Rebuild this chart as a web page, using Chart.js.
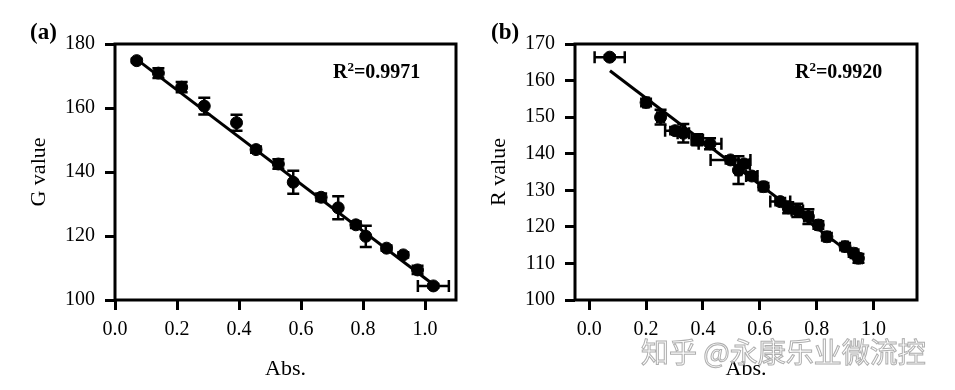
<!DOCTYPE html>
<html>
<head>
<meta charset="utf-8">
<script src="https://cdn.jsdelivr.net/npm/chart.js@4/dist/chart.umd.min.js"></script>
<style>
  html, body { margin:0; padding:0; background:#fff; }
  body { width:955px; height:390px; position:relative; overflow:hidden; font-family:"Liberation Serif", serif; }
  .pane { position:absolute; top:0; height:390px; }
  .lbl { position:absolute; font-family:"Liberation Serif", serif; font-weight:bold; color:#000; line-height:1; white-space:nowrap; }
  .wm { position:absolute; font-family:"Noto Sans CJK SC", sans-serif; font-size:28px; line-height:1; color:rgba(255,255,255,0.7); -webkit-text-stroke:1px rgba(165,165,165,0.9); white-space:nowrap; }
</style>
</head>
<body>
<div class="pane" style="left:0;width:477px;"><canvas id="cA" width="477" height="390"></canvas></div>
<div class="pane" style="left:477px;width:478px;"><canvas id="cB" width="478" height="390"></canvas></div>
<div class="lbl" style="left:30px;top:20px;font-size:23px;">(a)</div>
<div class="lbl" style="left:491px;top:20px;font-size:23px;">(b)</div>
<div class="lbl" style="left:333px;top:60px;font-size:20px;">R<sup style="font-size:13px;vertical-align:7px;">2</sup>=0.9971</div>
<div class="lbl" style="left:795px;top:60px;font-size:20px;">R<sup style="font-size:13px;vertical-align:7px;">2</sup>=0.9920</div>
<div class="wm" style="left:641px;top:337px;">知乎 @永康乐业微流控</div>
<script>
// ---- Panel (a): G value vs Abs. ----
const gAbs  = [0.070, 0.140, 0.215, 0.288, 0.392, 0.455, 0.527, 0.575, 0.665, 0.720, 0.777, 0.809, 0.876, 0.930, 0.976, 1.027];
const gVal  = [174.8, 170.9, 166.5, 160.6, 155.4, 147.0, 142.5, 136.8, 132.1, 128.8, 123.5, 119.9, 116.2, 114.1, 109.4, 104.4];
const gErrY = [0.6, 1.5, 1.6, 2.6, 2.5, 1.0, 1.5, 3.6, 1.2, 3.6, 1.0, 3.3, 0.8, 0.8, 1.3, 0.6];
const gErrX = [0, 0, 0, 0, 0, 0, 0, 0, 0, 0, 0, 0, 0, 0, 0, 0.050];
const gFitX = [0.070, 1.029];
const gFitY = [175.2, 104.7];
const gYTicks = [100, 120, 140, 160, 180];

// ---- Panel (b): R value vs Abs. ----
const rAbs  = [0.072, 0.200, 0.251, 0.302, 0.331, 0.380, 0.425, 0.497, 0.525, 0.545, 0.572, 0.613, 0.672, 0.700, 0.732, 0.771, 0.806, 0.836, 0.900, 0.930, 0.947];
const rVal  = [166.4, 154.0, 150.0, 146.3, 145.6, 143.8, 142.7, 138.3, 135.5, 137.2, 133.9, 131.0, 126.9, 125.2, 124.5, 122.8, 120.5, 117.3, 114.6, 112.8, 111.4];
const rErrY = [0.5, 1.0, 2.0, 1.0, 2.5, 1.5, 1.5, 1.0, 3.8, 1.0, 1.0, 1.0, 1.0, 1.5, 1.8, 2.0, 1.0, 1.0, 1.0, 1.0, 1.2];
const rErrX = [0.053, 0.010, 0.012, 0.035, 0.020, 0.020, 0.040, 0.070, 0.010, 0.020, 0.020, 0.010, 0.035, 0.015, 0.020, 0.015, 0.010, 0.010, 0.010, 0.010, 0.010];
const rFitX = [0.073, 0.965];
const rFitY = [162.7, 110.0];
const rYTicks = [100, 110, 120, 130, 140, 150, 160, 170];

const xTicks = [0.0, 0.2, 0.4, 0.6, 0.8, 1.0];
const xTitle = 'Abs.';

const errorBars = {
  id: 'errorBars',
  afterDatasetsDraw(chart, args, opts) {
    const ctx = chart.ctx, xs = chart.scales.x, ys = chart.scales.y;
    ctx.save();
    ctx.strokeStyle = '#000';
    ctx.lineWidth = 2.5;
    const cap = 6;
    opts.x.forEach((xv, i) => {
      const yv = opts.y[i];
      const px = xs.getPixelForValue(xv), py = ys.getPixelForValue(yv);
      const ey = opts.ey[i], ex = opts.ex[i];
      if (ey > 0) {
        const p1 = ys.getPixelForValue(yv + ey), p2 = ys.getPixelForValue(yv - ey);
        ctx.beginPath();
        ctx.moveTo(px, p1); ctx.lineTo(px, p2);
        ctx.moveTo(px - cap, p1); ctx.lineTo(px + cap, p1);
        ctx.moveTo(px - cap, p2); ctx.lineTo(px + cap, p2);
        ctx.stroke();
      }
      if (ex > 0) {
        const q1 = xs.getPixelForValue(xv - ex), q2 = xs.getPixelForValue(xv + ex);
        ctx.beginPath();
        ctx.moveTo(q1, py); ctx.lineTo(q2, py);
        ctx.moveTo(q1, py - cap); ctx.lineTo(q1, py + cap);
        ctx.moveTo(q2, py - cap); ctx.lineTo(q2, py + cap);
        ctx.stroke();
      }
    });
    ctx.restore();
  }
};

const frame = {
  id: 'frame',
  afterDraw(chart) {
    const {ctx, chartArea: a} = chart;
    ctx.save();
    ctx.strokeStyle = '#000';
    ctx.lineWidth = 3;
    ctx.strokeRect(a.left, a.top, a.right - a.left, a.bottom - a.top);
    ctx.restore();
  }
};

const tickFont = { family: 'Liberation Serif', size: 20 };
const titleFont = { family: 'Liberation Serif', size: 22 };

function makeChart(id, cfg) {
  const pts = cfg.xs.map((v, i) => ({ x: v, y: cfg.ys[i] }));
  const fit = cfg.fx.map((v, i) => ({ x: v, y: cfg.fy[i] }));
  return new Chart(document.getElementById(id), {
    type: 'scatter',
    data: {
      datasets: [
        { type: 'line', data: fit, borderColor: '#000', borderWidth: 3, pointRadius: 0, fill: false, order: 2 },
        { data: pts, backgroundColor: '#000', borderColor: '#000', pointRadius: 6, pointStyle: 'circle', order: 1 }
      ]
    },
    options: {
      responsive: false,
      animation: false,
      events: [],
      layout: { padding: { left: 0, top: 44, right: cfg.padRight, bottom: 0 } },
      plugins: {
        legend: { display: false },
        tooltip: { enabled: false },
        errorBars: { x: cfg.xs, y: cfg.ys, ex: cfg.ex, ey: cfg.ey }
      },
      scales: {
        x: {
          type: 'linear', min: cfg.xmin, max: cfg.xmax,
          afterBuildTicks: s => { s.ticks = xTicks.map(v => ({ value: v })); },
          afterFit: s => { s.height = 90; },
          grid: { drawOnChartArea: false, drawTicks: true, tickLength: 10, tickWidth: 3, tickColor: '#000', color: '#000' },
          border: { display: false },
          ticks: { font: tickFont, color: '#000', padding: 8, maxRotation: 0, autoSkip: false, callback: v => Number(v).toFixed(1) },
          title: { display: true, text: xTitle, font: titleFont, color: '#000', padding: { top: 0, bottom: 8 } }
        },
        y: {
          type: 'linear', min: cfg.ymin, max: cfg.ymax,
          afterBuildTicks: s => { s.ticks = cfg.yt.map(v => ({ value: v })); },
          afterFit: s => { s.width = cfg.yWidth; },
          grid: { drawOnChartArea: false, drawTicks: true, tickLength: 10, tickWidth: 3, tickColor: '#000', color: '#000' },
          border: { display: false },
          ticks: { font: tickFont, color: '#000', padding: 10, autoSkip: false },
          title: { display: true, text: cfg.yTitle, font: titleFont, color: '#000', padding: { top: cfg.yTitlePad, bottom: 0 } }
        }
      }
    },
    plugins: [errorBars, frame]
  });
}

makeChart('cA', {
  xs: gAbs, ys: gVal, ex: gErrX, ey: gErrY, fx: gFitX, fy: gFitY, yt: gYTicks,
  xmin: 0, xmax: 1.1, ymin: 100, ymax: 180, padRight: 21, yWidth: 115, yTitle: 'G value', yTitlePad: 26
});
makeChart('cB', {
  xs: rAbs, ys: rVal, ex: rErrX, ey: rErrY, fx: rFitX, fy: rFitY, yt: rYTicks,
  xmin: -0.05, xmax: 1.153, ymin: 100, ymax: 170, padRight: 38, yWidth: 98, yTitle: 'R value', yTitlePad: 9
});
</script>
</body>
</html>
